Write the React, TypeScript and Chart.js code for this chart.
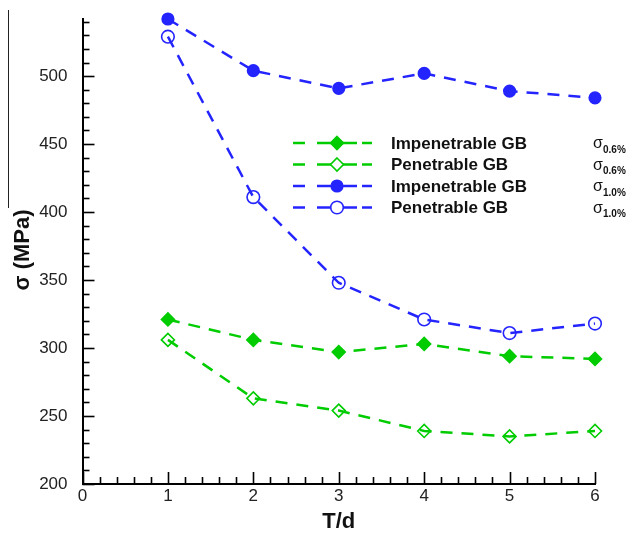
import React, { useEffect, useRef } from "react";
import { Chart, registerables } from "chart.js";

Chart.register(...registerables);

const xValues = [1, 2, 3, 4, 5, 6];
const impenetrable10 = [542, 504, 491, 502, 489, 484];
const penetrable10 = [529, 411, 348, 321, 311, 318];
const impenetrable06 = [321, 306, 297, 303, 294, 292];
const penetrable06 = [306, 263, 254, 239, 235, 239];

const legendLabels = ["Impenetrable GB", "Penetrable GB", "Impenetrable GB", "Penetrable GB"];
const legendSubscripts = ["0.6%", "0.6%", "1.0%", "1.0%"];

const GREEN = "#00cc00";
const BLUE = "#2424ff";
const FONT = "'Liberation Sans', Arial, sans-serif";

const W = 634;
const H = 537;
const LEFT = 82.5;
const RIGHT = 595;
const TOP = 19;
const BOTTOM = 484;

const toPoints = (ys: number[]) => xValues.map((x, i) => ({ x, y: ys[i] }));

export default function App() {
  const ref = useRef<HTMLCanvasElement | null>(null);

  useEffect(() => {
    if (!ref.current) return;
    const common = {
      borderWidth: 2.5,
      borderDash: [12, 9],
      pointBorderWidth: 1.6,
      clip: false as const,
      tension: 0,
    };
    const decor = {
      id: "decor",
      afterDraw(chart: any) {
        const ctx = chart.ctx as CanvasRenderingContext2D;
        const xs = chart.scales.x;
        const ys = chart.scales.y;
        const area = chart.chartArea;
        ctx.save();
        ctx.strokeStyle = "#000";
        ctx.lineWidth = 1.6;
        for (let v = 200; v <= 540; v += 10) {
          const y = Math.round(ys.getPixelForValue(v)) + 0.5;
          const len = v % 50 === 0 ? 12 : 7;
          ctx.beginPath();
          ctx.moveTo(area.left, y);
          ctx.lineTo(area.left + len, y);
          ctx.stroke();
        }
        for (let i = 0; i <= 30; i++) {
          const v = i / 5;
          const x = Math.round(xs.getPixelForValue(v)) + 0.5;
          const len = i % 5 === 0 ? 12 : 7;
          ctx.beginPath();
          ctx.moveTo(x, area.bottom);
          ctx.lineTo(x, area.bottom - len);
          ctx.stroke();
        }
        ctx.fillStyle = "#111";
        ctx.font = `bold 22px ${FONT}`;
        ctx.textAlign = "center";
        ctx.textBaseline = "middle";
        ctx.fillText("T/d", (area.left + area.right) / 2, 522);
        ctx.save();
        ctx.translate(23, 250);
        ctx.rotate(-Math.PI / 2);
        ctx.fillText("σ (MPa)", 0, 0);
        ctx.restore();

        const rows = [143, 164.5, 186, 207.5];
        const colors = [GREEN, GREEN, BLUE, BLUE];
        const styles = ["diamondF", "diamondO", "circleF", "circleO"];
        rows.forEach((ry, i) => {
          ctx.strokeStyle = colors[i];
          ctx.lineWidth = 2.5;
          ctx.setLineDash([]);
          const segs = [
            [293, 305],
            [317, 357],
            [362, 372],
          ];
          segs.forEach(([a, b]) => {
            ctx.beginPath();
            ctx.moveTo(a, ry);
            ctx.lineTo(b, ry);
            ctx.stroke();
          });
          const mx = 337;
          ctx.lineWidth = 1.6;
          ctx.beginPath();
          if (styles[i].startsWith("diamond")) {
            const r = 6.5;
            ctx.moveTo(mx, ry - r);
            ctx.lineTo(mx + r, ry);
            ctx.lineTo(mx, ry + r);
            ctx.lineTo(mx - r, ry);
            ctx.closePath();
          } else {
            ctx.arc(mx, ry, styles[i] === "circleF" ? 5.8 : 6.3, 0, Math.PI * 2);
          }
          ctx.fillStyle = styles[i].endsWith("F") ? colors[i] : "#fff";
          ctx.fill();
          ctx.stroke();

          ctx.fillStyle = "#111";
          ctx.textAlign = "left";
          ctx.textBaseline = "middle";
          ctx.font = `bold 17px ${FONT}`;
          ctx.fillText(legendLabels[i], 391, ry + 1);
          ctx.font = `16px ${FONT}`;
          ctx.fillText("σ", 593, ry + 1);
          ctx.font = `bold 10px ${FONT}`;
          ctx.fillText(legendSubscripts[i], 603, ry + 7);
        });
        ctx.restore();
      },
    };

    const chart = new Chart(ref.current, {
      type: "line",
      data: {
        datasets: [
          {
            label: "Impenetrable GB σ0.6%",
            data: toPoints(impenetrable06),
            borderColor: GREEN,
            backgroundColor: GREEN,
            pointStyle: "rectRot",
            pointRadius: 6.5,
            pointBackgroundColor: GREEN,
            pointBorderColor: GREEN,
            ...common,
          },
          {
            label: "Penetrable GB σ0.6%",
            data: toPoints(penetrable06),
            borderColor: GREEN,
            backgroundColor: "transparent",
            pointStyle: "rectRot",
            pointRadius: 6.5,
            pointBackgroundColor: "transparent",
            pointBorderColor: GREEN,
            ...common,
          },
          {
            label: "Impenetrable GB σ1.0%",
            data: toPoints(impenetrable10),
            borderColor: BLUE,
            backgroundColor: BLUE,
            pointStyle: "circle",
            pointRadius: 5.8,
            pointBackgroundColor: BLUE,
            pointBorderColor: BLUE,
            ...common,
          },
          {
            label: "Penetrable GB σ1.0%",
            data: toPoints(penetrable10),
            borderColor: BLUE,
            backgroundColor: "transparent",
            pointStyle: "circle",
            pointRadius: 6.3,
            pointBackgroundColor: "transparent",
            pointBorderColor: BLUE,
            ...common,
          },
        ],
      },
      options: {
        animation: false,
        responsive: false,
        maintainAspectRatio: false,
        layout: { padding: { left: 0, top: TOP, right: W - RIGHT, bottom: 0 } },
        plugins: { legend: { display: false }, tooltip: { enabled: false } },
        scales: {
          x: {
            type: "linear",
            min: 0,
            max: 6,
            ticks: { stepSize: 1, padding: -6, color: "#222", font: { size: 17, family: FONT } },
            grid: { display: false },
            border: { display: true, color: "#000", width: 2 },
            afterFit: (s: any) => {
              s.height = H - BOTTOM;
            },
          },
          y: {
            type: "linear",
            min: 200,
            max: 542,
            ticks: { stepSize: 50, padding: 7, color: "#222", font: { size: 17, family: FONT } },
            afterBuildTicks: (s: any) => {
              s.ticks = s.ticks.filter((t: any) => t.value % 50 === 0);
            },
            grid: { display: false },
            border: { display: true, color: "#000", width: 2 },
            afterFit: (s: any) => {
              s.width = LEFT;
            },
          },
        },
      },
      plugins: [decor],
    });
    return () => chart.destroy();
  }, []);

  return (
    <div style={{ position: "absolute", left: 0, top: 0, width: W, height: H, background: "#fff" }}>
      <canvas ref={ref} width={W} height={H} style={{ width: W, height: H, display: "block" }} />
      <div
        style={{
          position: "absolute",
          left: 7.5,
          top: 10,
          width: 1.5,
          height: 198,
          background: "#222",
        }}
      />
    </div>
  );
}
